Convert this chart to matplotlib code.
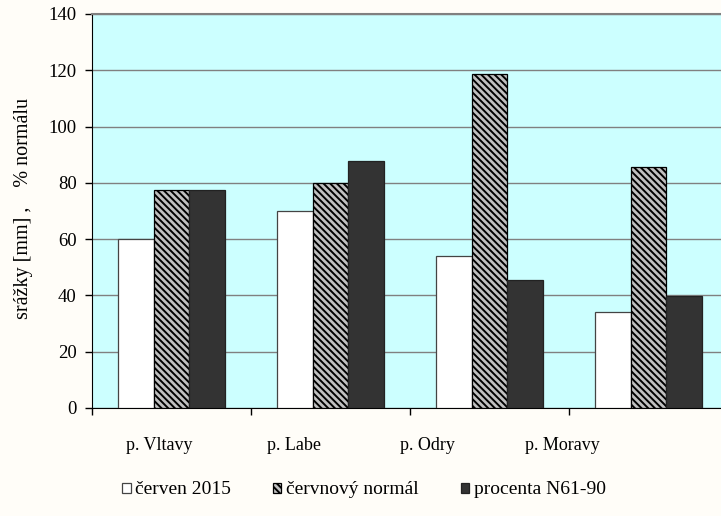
import matplotlib
matplotlib.use("Agg")
import matplotlib.pyplot as plt
import numpy as np

plt.rcParams['font.family'] = ['Liberation Serif', 'DejaVu Serif']
plt.rcParams['hatch.linewidth'] = 1.4
plt.rcParams['hatch.color'] = 'black'

# srazky za cerven 2015 podle povodi
povodi = ["p. Vltavy", "p. Labe", "p. Odry", "p. Moravy"]
cerven_2015 = [60, 70, 54, 34]
normal = [77.5, 79.8, 118.6, 85.5]
procenta = [77.4, 87.7, 45.5, 39.9]
nazvy = ["červen 2015", "červnový normál", "procenta N61-90"]

fig = plt.figure(figsize=(7.21, 5.16), dpi=100, facecolor='#FFFDF8')
ax = fig.add_axes([92/721, 108/516, 636/721, 394/516])
ax.set_facecolor('#CCFFFF')

x = np.arange(len(povodi))
w = 0.225
b1 = ax.bar(x - w, cerven_2015, w, color='white', edgecolor='#444444', linewidth=0.9, label=nazvy[0], zorder=3)
b2 = ax.bar(x, normal, w, color='#C0C0C0', edgecolor='black', hatch='\\' * 5, linewidth=0.9, label=nazvy[1], zorder=3)
b3 = ax.bar(x + w, procenta, w, color='#333333', edgecolor='#222222', linewidth=0.9, label=nazvy[2], zorder=3)

ax.set_xlim(-0.5, 3.5)
ax.set_ylim(0, 140)
ax.set_yticks(np.arange(0, 141, 20))
ax.yaxis.grid(True, color='#808080', linewidth=1.0, zorder=0)
ax.tick_params(axis='y', labelsize=13.5, length=5, width=1, direction='out', pad=6)

# carky mezi povodimi, popisky zvlast
ax.set_xticks(np.arange(-0.5, 3.6, 1.0))
ax.set_xticklabels([])
ax.tick_params(axis='x', which='major', length=5, width=1, direction='out')
ax.set_xticks(-0.5 + (x + 0.5) * 0.845, minor=True)
ax.set_xticklabels(povodi, minor=True)
ax.tick_params(axis='x', which='minor', length=0, labelsize=13, pad=21)

ax.spines['left'].set_color('black')
ax.spines['bottom'].set_color('black')
ax.spines['top'].set_color('#808080')
ax.spines['top'].set_linewidth(1.5)
ax.spines['right'].set_visible(False)

fig.text(24/721, 1 - 208/516, "srážky [mm] ,    % normálu", rotation=90,
         ha='center', va='center', fontsize=14.5)

fig.legend(handles=[b1, b2, b3], loc='center', bbox_to_anchor=(364/721, 1 - 490/516),
           ncol=3, frameon=False, fontsize=14, handlelength=0.42, handleheight=0.42,
           handletextpad=0.25, columnspacing=2.15)

fig.savefig("out.png", dpi=100, facecolor=fig.get_facecolor())
